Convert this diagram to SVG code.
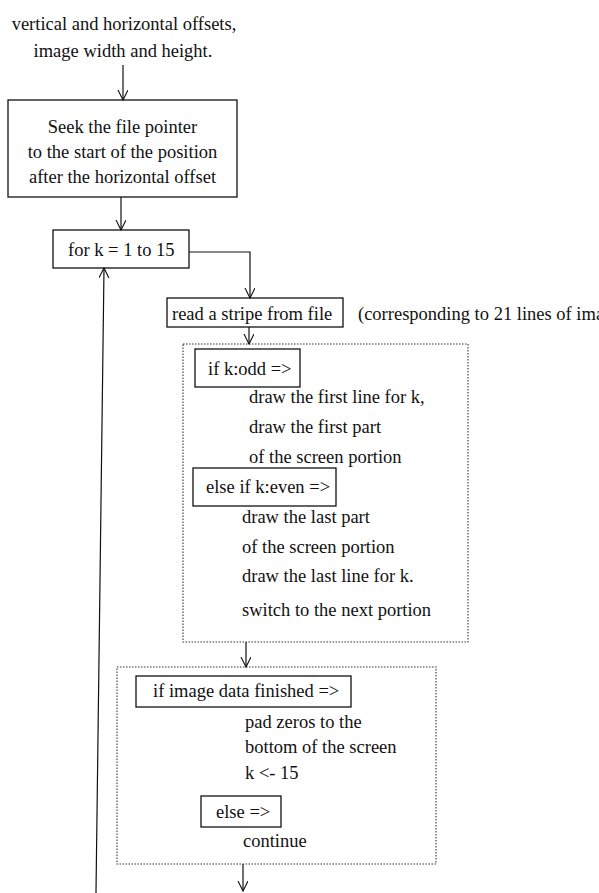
<svg xmlns="http://www.w3.org/2000/svg" width="599" height="893" viewBox="0 0 599 893">
<defs>
<marker id="arr" markerWidth="12" markerHeight="12" refX="10" refY="5" orient="auto" markerUnits="userSpaceOnUse">
<polyline points="0,0 10,5 0,10" fill="none" stroke="#111" stroke-width="1.1"/>
</marker>
<style>
text{font-family:"Liberation Serif","Times New Roman",serif;font-size:18.5px;fill:#111}
.box{fill:none;stroke:#111;stroke-width:1.3}
.dot{fill:none;stroke:#333;stroke-width:1.1;stroke-dasharray:1.5,1.5}
.c{fill:none;stroke:#111;stroke-width:1.2}
.m{text-anchor:middle}
</style>
</defs>
<rect width="599" height="893" fill="#fff"/>
<g id="input">
<text class="m" x="124" y="30">vertical and horizontal offsets,</text>
<text class="m" x="123" y="57">image width and height.</text>
</g>
<g id="seek">
<rect class="box" x="8" y="100" width="229" height="97"/>
<text class="m" x="122.5" y="133">Seek the file pointer</text>
<text class="m" x="122.5" y="158">to the start of the position</text>
<text class="m" x="122.5" y="183">after the horizontal offset</text>
</g>
<g id="loop">
<rect class="box" x="53" y="230" width="136" height="38"/>
<text x="68" y="256">for k = 1 to 15</text>
</g>
<g id="read">
<rect class="box" x="167" y="298" width="176" height="29"/>
<text x="172" y="320">read a stripe from file</text>
<text x="358" y="320">(corresponding to 21 lines of image)</text>
</g>
<g id="oddeven">
<rect class="dot" x="183" y="344" width="285" height="298"/>
<rect class="box" x="195" y="349" width="105" height="38"/>
<text x="208" y="375">if k:odd =&gt;</text>
<text x="249" y="403">draw the first line for k,</text>
<text x="249" y="433">draw the first part</text>
<text x="249" y="463">of the screen portion</text>
<rect class="box" x="193" y="468" width="143" height="38"/>
<text x="206" y="493">else if k:even =&gt;</text>
<text x="242" y="523">draw the last part</text>
<text x="242" y="553">of the screen portion</text>
<text x="242" y="582">draw the last line for k.</text>
<text x="242" y="616">switch to the next portion</text>
</g>
<g id="finish">
<rect class="dot" x="117" y="667" width="319" height="197"/>
<rect class="box" x="136" y="676" width="215" height="31"/>
<text x="153" y="697">if image data finished =&gt;</text>
<text x="245" y="728">pad zeros to the</text>
<text x="245" y="753">bottom of the screen</text>
<text x="245" y="779">k &lt;- 15</text>
<rect class="box" x="201" y="796" width="80" height="31"/>
<text x="216" y="818">else =&gt;</text>
<text x="243" y="847">continue</text>
</g>
<g id="connectors">
<line class="c" x1="123" y1="65" x2="123" y2="100" marker-end="url(#arr)"/>
<line class="c" x1="121" y1="197" x2="121" y2="230" marker-end="url(#arr)"/>
<polyline class="c" points="189,252 250,252 250,298" marker-end="url(#arr)"/>
<line class="c" x1="249" y1="327" x2="249" y2="344" marker-end="url(#arr)"/>
<line class="c" x1="246" y1="642" x2="246" y2="667" marker-end="url(#arr)"/>
<line class="c" x1="243" y1="864" x2="243" y2="891" marker-end="url(#arr)"/>
<line class="c" x1="96" y1="893" x2="104" y2="268" marker-end="url(#arr)"/>
</g>
</svg>
